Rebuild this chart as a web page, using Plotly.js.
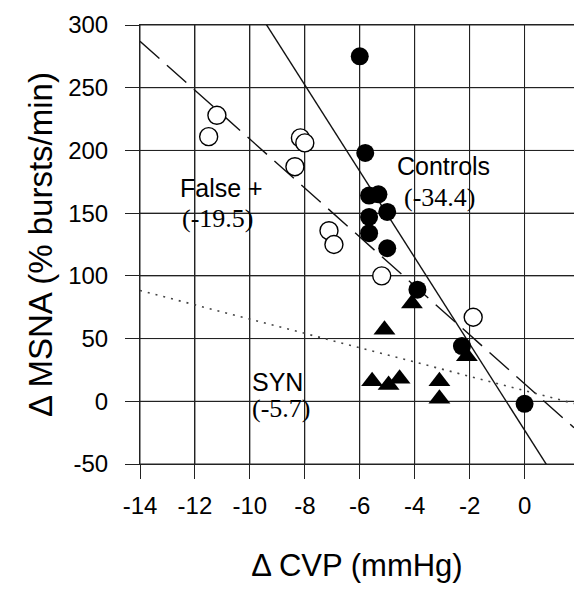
<!DOCTYPE html>
<html>
<head>
<meta charset="utf-8">
<script src="https://cdn.plot.ly/plotly-3.0.1.min.js"></script>
<style>html,body{margin:0;padding:0;background:#fff;}#chart{width:574px;height:593px;}</style>
</head>
<body>
<div id="chart"></div>
<script>
// Controls (filled circles)
const controlsX = [-6.0, -5.8, -5.66, -5.32, -5.0, -5.66, -5.66, -5.0, -3.9, -2.28, 0.0];
const controlsY = [275, 198, 164, 165, 151, 147, 134, 122, 89, 44, -2];
// False + (open circles)
const falsePosX = [-11.2, -11.5, -8.16, -8.0, -8.36, -7.12, -6.94, -5.2, -1.87];
const falsePosY = [228, 211, 210, 206, 187, 136, 125, 100, 67];
// SYN (filled triangles)
const synX = [-5.55, -4.95, -4.55, -3.1, -3.1, -4.1, -5.1, -2.1];
const synY = [16, 13, 18, 16, 2, 78, 57, 36];
// Regression lines: slope, intercept, x extent
const fitNames = ['Controls', 'False +', 'SYN'];
const fitSlopes = [-34.4, -19.5, -5.7];
const fitIntercepts = [-23, 14, 8.5];
const fitXStart = [-9.5, -14, -14];
const fitXEnd = [0.9, 1.8, 1.8];
// Axis ticks
const xTicks = [-14, -12, -10, -8, -6, -4, -2, 0];
const yTicks = [-50, 0, 50, 100, 150, 200, 250, 300];

const fitStyles = [
  {color: '#111', width: 1.4, dash: 'solid'},
  {color: '#111', width: 1.4, dash: '26px,10px'},
  {color: '#444', width: 1.6, dash: '2px,6px'}
];

const traces = [];
for (let i = 0; i < fitNames.length; i++) {
  const xs = [fitXStart[i], fitXEnd[i]];
  traces.push({
    x: xs,
    y: xs.map(v => fitSlopes[i] * v + fitIntercepts[i]),
    mode: 'lines', type: 'scatter', name: fitNames[i] + ' fit',
    line: fitStyles[i], hoverinfo: 'skip'
  });
}
traces.push({x: falsePosX, y: falsePosY, mode: 'markers', type: 'scatter', name: 'False +',
  marker: {symbol: 'circle', size: 18, color: '#fff', line: {color: '#000', width: 1.4}}});
traces.push({x: synX, y: synY, mode: 'markers', type: 'scatter', name: 'SYN',
  marker: {symbol: 'triangle-up', size: 19, color: '#000', line: {width: 0}}});
traces.push({x: controlsX, y: controlsY, mode: 'markers', type: 'scatter', name: 'Controls',
  marker: {symbol: 'circle', size: 18, color: '#000', line: {width: 0}}});

const sans = 'Liberation Sans, Arial, sans-serif';
const serif = 'Liberation Serif, Times New Roman, serif';
const gridColor = '#222222';

// Grid lines at the tick values (drawn as layout shapes)
const gridShapes = [];
xTicks.forEach(v => gridShapes.push({type: 'line', xref: 'x', yref: 'paper', x0: v, x1: v, y0: 0, y1: 1,
  line: {color: gridColor, width: 1}, layer: 'below'}));
yTicks.forEach(v => gridShapes.push({type: 'line', xref: 'paper', yref: 'y', x0: 0, x1: 1, y0: v, y1: v,
  line: {color: gridColor, width: 1}, layer: 'below'}));

const layout = {
  width: 574, height: 593,
  margin: {l: 140, r: 0, t: 25, b: 129},
  paper_bgcolor: '#fff', plot_bgcolor: '#fff',
  showlegend: false,
  hovermode: false,
  font: {family: sans, color: '#000'},
  shapes: gridShapes,
  xaxis: {
    range: [-14, 1.8], tickvals: xTicks, ticktext: xTicks.map(String),
    showgrid: true, gridcolor: gridColor, gridwidth: 1,
    zeroline: false, showline: true, linecolor: gridColor, linewidth: 1, mirror: true,
    ticks: 'outside', ticklen: 14, tickcolor: gridColor, tickwidth: 1,
    tickfont: {family: sans, size: 24, color: '#000'},
    ticklabelstandoff: 6,
    title: {text: '\u0394 CVP (mmHg)', font: {family: sans, size: 31, color: '#000'}, standoff: 36}
  },
  yaxis: {
    range: [-50, 300], tickvals: yTicks, ticktext: yTicks.map(String),
    showgrid: true, gridcolor: gridColor, gridwidth: 1,
    zeroline: false, showline: true, linecolor: gridColor, linewidth: 1,
    ticks: 'outside', ticklen: 14, tickcolor: gridColor, tickwidth: 1,
    tickfont: {family: sans, size: 24, color: '#000'},
    ticklabelstandoff: 12,
    title: {text: '\u0394 MSNA (% bursts/min)', font: {family: sans, size: 33, color: '#000'}, standoff: 5}
  },
  annotations: [
    {x: -4.72, y: 187.6, xref: 'x', yref: 'y', xanchor: 'left', yanchor: 'middle', showarrow: false,
     text: 'Controls', font: {family: sans, size: 25, color: '#000'}},
    {x: -4.46, y: 162.8, xref: 'x', yref: 'y', xanchor: 'left', yanchor: 'middle', showarrow: false,
     text: '(-34.4)', font: {family: serif, size: 26, color: '#000'}},
    {x: -12.62, y: 170, xref: 'x', yref: 'y', xanchor: 'left', yanchor: 'middle', showarrow: false,
     text: 'False +', font: {family: sans, size: 25, color: '#000'}},
    {x: -12.54, y: 146, xref: 'x', yref: 'y', xanchor: 'left', yanchor: 'middle', showarrow: false,
     text: '(-19.5)', font: {family: serif, size: 26, color: '#000'}},
    {x: -10.0, y: 15.3, xref: 'x', yref: 'y', xanchor: 'left', yanchor: 'middle', showarrow: false,
     text: 'SYN', font: {family: sans, size: 25, color: '#000'}},
    {x: -10.0, y: -5.4, xref: 'x', yref: 'y', xanchor: 'left', yanchor: 'middle', showarrow: false,
     text: '(-5.7)', font: {family: serif, size: 26, color: '#000'}}
  ]
};

Plotly.newPlot('chart', traces, layout, {displayModeBar: false, staticPlot: true});
</script>
</body>
</html>
